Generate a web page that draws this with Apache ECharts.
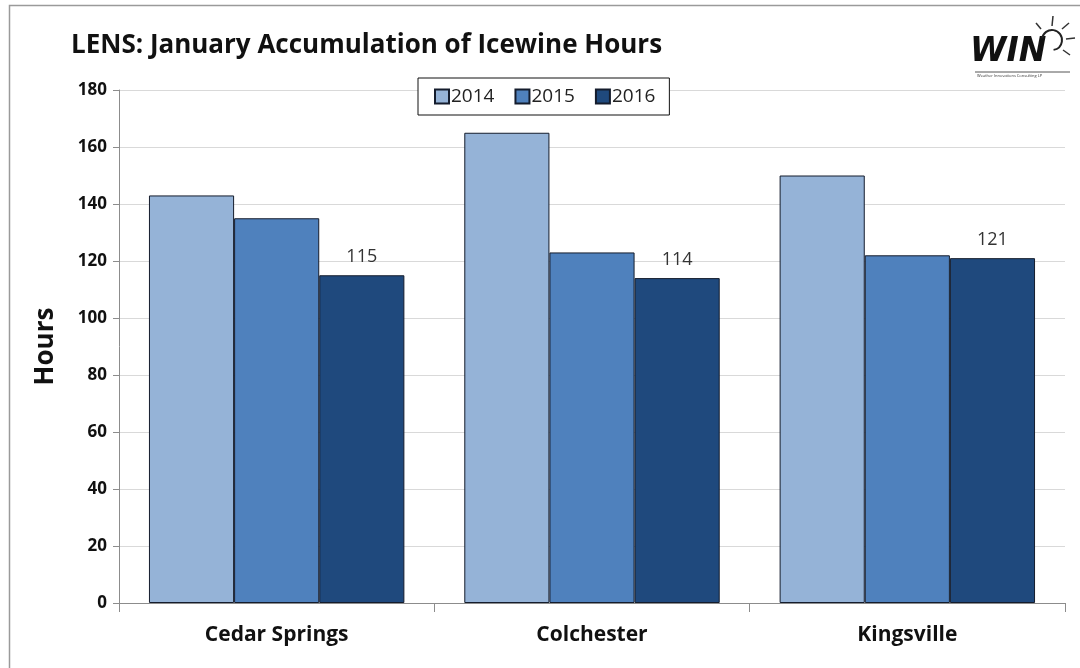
<!DOCTYPE html>
<html>
<head>
<meta charset="utf-8">
<script src="https://cdn.jsdelivr.net/npm/echarts@6/dist/echarts.min.js"></script>
<style>
html, body { margin: 0; padding: 0; background: #fff; }
#chart { width: 1080px; height: 668px; }
</style>
</head>
<body>
<div id="chart"></div>
<script>
var myChart = echarts.init(document.getElementById('chart'));

// stations
var sites = ['Cedar Springs', 'Colchester', 'Kingsville'];
// January icewine hours per year
var years = ['2014', '2015', '2016'];
var hours2014 = [143, 165, 150];
var hours2015 = [135, 123, 122];
var hours2016 = [115, 114, 121];
var barColors = ['#95B3D7', '#4F81BD', '#1F497D'];

var font = 'Open Sans';

function bar(name, data, color, showLabel) {
    return {
        name: name,
        type: 'bar',
        barGap: '0%',
        barCategoryGap: '19%',
        itemStyle: { color: color, borderColor: '#141c2c', borderWidth: 1 },
        label: {
            show: showLabel,
            position: 'top',
            distance: 9,
            color: '#333',
            fontFamily: font,
            fontSize: 18
        },
        data: data
    };
}

var option = {
    backgroundColor: '#fff',
    animation: false,
    title: {
        text: 'LENS: January Accumulation of Icewine Hours',
        left: 66,
        top: 28,
        textStyle: { fontFamily: font, fontSize: 26, fontWeight: 'bold', color: '#111' }
    },
    legend: {
        data: years,
        left: 418,
        top: 78,
        width: 262,
        padding: [9, 14, 9, 16],
        itemGap: 20,
        itemWidth: 14,
        itemHeight: 14,
        icon: 'rect',
        backgroundColor: '#fff',
        borderColor: '#111',
        borderWidth: 1,
        textStyle: { fontFamily: font, fontSize: 19, color: '#222', padding: [0, 0, 0, -3] }
    },
    grid: { left: 119, right: 15, top: 90, bottom: 65 },
    xAxis: {
        type: 'category',
        data: sites,
        axisLine: { lineStyle: { color: '#8c8c8c' } },
        axisTick: { show: true, length: 9, lineStyle: { color: '#8c8c8c' } },
        axisLabel: { fontFamily: font, fontSize: 21, fontWeight: 'bold', color: '#111', margin: 22 }
    },
    yAxis: {
        type: 'value',
        min: 0,
        max: 180,
        interval: 20,
        name: 'Hours',
        nameLocation: 'middle',
        nameGap: 60,
        nameTextStyle: { fontFamily: font, fontSize: 26, fontWeight: 'bold', color: '#111' },
        axisLine: { show: true, lineStyle: { color: '#8c8c8c' } },
        axisTick: { show: true, length: 6, lineStyle: { color: '#8c8c8c' } },
        axisLabel: { fontFamily: font, fontSize: 17, fontWeight: 'bold', color: '#111', margin: 12 },
        splitLine: { lineStyle: { color: '#d9d9d9' } }
    },
    series: [
        bar(years[0], hours2014, barColors[0], false),
        bar(years[1], hours2015, barColors[1], false),
        bar(years[2], hours2016, barColors[2], true)
    ],
    graphic: [
        { type: 'rect', shape: { x: 9.5, y: 5.5, width: 1090, height: 700 },
          style: { fill: 'none', stroke: '#9a9a9a', lineWidth: 1.5 }, silent: true },
        { type: 'text', left: 970, top: 36,
          style: { text: 'WIN', fontFamily: 'DejaVu Sans', fontSize: 33, fontWeight: 'bold', fontStyle: 'italic', fill: '#111' } },
        { type: 'line', shape: { x1: 975, y1: 72, x2: 1070, y2: 72 }, style: { stroke: '#555', lineWidth: 1 } },
        { type: 'text', left: 977, top: 74,
          style: { text: 'Weather Innovations Consulting LP', fontFamily: font, fontSize: 4, fill: '#333' } },
        { type: 'arc', shape: { cx: 1052, cy: 40, r: 10, startAngle: -Math.PI * 0.95, endAngle: Math.PI * 0.45 },
          style: { stroke: '#222', lineWidth: 2, fill: 'none' } },
        { type: 'line', shape: { x1: 1052, y1: 26, x2: 1053, y2: 16 }, style: { stroke: '#333', lineWidth: 1.5 } },
        { type: 'line', shape: { x1: 1062, y1: 29, x2: 1069, y2: 23 }, style: { stroke: '#333', lineWidth: 1.5 } },
        { type: 'line', shape: { x1: 1066, y1: 39, x2: 1075, y2: 38 }, style: { stroke: '#333', lineWidth: 1.5 } },
        { type: 'line', shape: { x1: 1063, y1: 50, x2: 1070, y2: 55 }, style: { stroke: '#333', lineWidth: 1.5 } },
        { type: 'line', shape: { x1: 1041, y1: 29, x2: 1036, y2: 23 }, style: { stroke: '#333', lineWidth: 1.5 } }
    ]
};

myChart.setOption(option);
</script>
</body>
</html>
